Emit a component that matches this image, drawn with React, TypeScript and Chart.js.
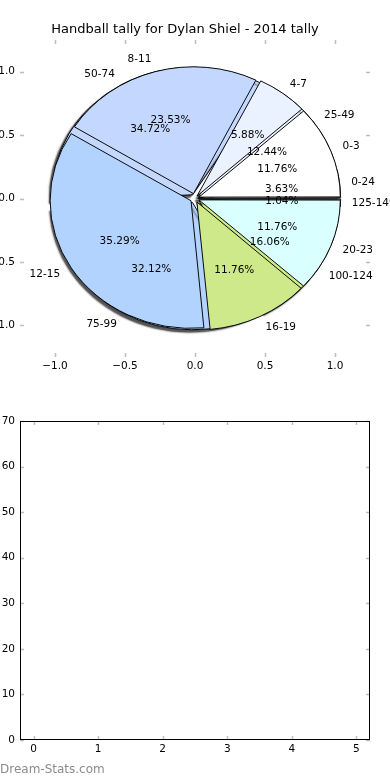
import React, { useEffect, useRef } from 'react';
import { Chart, registerables } from 'chart.js';

Chart.register(...registerables);

const chartTitle = 'Handball tally for Dylan Shiel - 2014 tally';
const handballLabels = ['0-3', '4-7', '8-11', '12-15', '16-19', '20-23'];
const handballCounts = [2, 1, 4, 6, 2, 2];
const disposalLabels = ['0-24', '25-49', '50-74', '75-99', '100-124', '125-149'];
const disposalCounts = [7, 24, 67, 62, 31, 2];
const sliceColors = ['#FFFFFF', '#EAF1FF', '#C4D8FF', '#B3D3FF', '#CEE98A', '#D9FFFF'];
const pieAxisTicks = [-1, -0.5, 0, 0.5, 1];
const lowerXTicks = [0, 1, 2, 3, 4, 5];
const lowerYTicks = [0, 10, 20, 30, 40, 50, 60, 70];
const watermark = 'Dream-Stats.com';

const FONT = "'DejaVu Sans', sans-serif";
const EXPLODE = 0.04;
const LABEL_DIST = 1.1;
const PCT_DIST = 0.6;
const W = 390;
const H = 390;

Chart.defaults.font.family = FONT;

const innerTicks = {
  id: 'innerTicks',
  afterDraw(chart: any) {
    const { ctx, chartArea: a, scales } = chart;
    const L = 4;
    ctx.save();
    ctx.strokeStyle = '#bdbdbd';
    ctx.lineWidth = 1.5;
    ctx.beginPath();
    for (const t of scales.x.ticks) {
      const p = Math.round(scales.x.getPixelForValue(t.value)) + 0.5;
      ctx.moveTo(p, a.bottom);
      ctx.lineTo(p, a.bottom - L);
      ctx.moveTo(p, a.top);
      ctx.lineTo(p, a.top + L);
    }
    for (const t of scales.y.ticks) {
      const p = Math.round(scales.y.getPixelForValue(t.value)) + 0.5;
      ctx.moveTo(a.left, p);
      ctx.lineTo(a.left + L, p);
      ctx.moveTo(a.right, p);
      ctx.lineTo(a.right - L, p);
    }
    ctx.stroke();
    ctx.restore();
  },
};

const framePlugin = {
  id: 'frame',
  afterDraw(chart: any) {
    const { ctx, chartArea: a } = chart;
    ctx.save();
    ctx.strokeStyle = '#000';
    ctx.lineWidth = 1;
    ctx.strokeRect(Math.round(a.left) + 0.5, Math.round(a.top) + 0.5, Math.round(a.right - a.left) - 1, Math.round(a.bottom - a.top) - 1);
    ctx.restore();
  },
};

function ellipsePlugin(ky: number, shadow: boolean) {
  return {
    id: 'ellipse',
    beforeDatasetsDraw(chart: any) {
      const { ctx } = chart;
      const el = chart.getDatasetMeta(0).data[0];
      const cx = el.x;
      const cy = el.y;
      ctx.save();
      ctx.translate(cx, cy);
      ctx.scale(1, ky);
      ctx.translate(-cx, -cy);
      if (shadow) {
        ctx.shadowColor = 'rgba(50,50,50,0.85)';
        ctx.shadowOffsetX = -2.5;
        ctx.shadowOffsetY = 2.5;
        ctx.shadowBlur = 1.5;
      }
    },
    afterDatasetsDraw(chart: any) {
      chart.ctx.restore();
    },
  };
}

function drawPieText(ctx: CanvasRenderingContext2D, chart: any, ky: number) {
  const meta = chart.getDatasetMeta(0);
  const ds = chart.data.datasets[0];
  const labels = chart.data.labels;
  const total = ds.data.reduce((s: number, v: number) => s + v, 0);
  meta.data.forEach((el: any, i: number) => {
    const p = el.getProps(['x', 'y', 'startAngle', 'endAngle', 'outerRadius'], true);
    const mid = (p.startAngle + p.endAngle) / 2;
    const t = (el.options.offset || 0) / 4;
    const c = Math.cos(mid);
    const s = Math.sin(mid);
    const bx = p.x + c * t;
    const by = p.y + s * t * ky;
    ctx.textAlign = 'center';
    ctx.textBaseline = 'middle';
    ctx.fillText(((ds.data[i] / total) * 100).toFixed(2) + '%', bx + c * p.outerRadius * PCT_DIST, by + s * p.outerRadius * PCT_DIST * ky);
    ctx.textAlign = c > 0 ? 'left' : 'right';
    ctx.fillText(labels[i], bx + c * p.outerRadius * LABEL_DIST, by + s * p.outerRadius * LABEL_DIST * ky);
  });
}

function makePie(canvas: HTMLCanvasElement, labels: string[], counts: number[], padding: any, radius: number, ky: number, explodePx: number, shadow: boolean, extra: any[]) {
  const revLabels = [...labels].reverse();
  const revCounts = [...counts].reverse();
  const revColors = [...sliceColors].reverse();
  const total = counts.reduce((a, b) => a + b, 0);
  return new Chart(canvas, {
    type: 'pie',
    data: {
      labels: revLabels,
      datasets: [
        {
          data: revCounts,
          backgroundColor: revColors,
          borderColor: '#000',
          borderWidth: 1,
          radius,
          offset: (c: any) => {
            const circ = (c.dataset.data[c.dataIndex] / total) * Math.PI * 2;
            const fix = 1 - Math.sin(Math.min(Math.PI, circ));
            return (4 * explodePx) / (1 + fix);
          },
        } as any,
      ],
    },
    options: {
      animation: false,
      responsive: false,
      events: [],
      radius,
      rotation: 90,
      layout: { padding },
      plugins: { legend: { display: false }, tooltip: { enabled: false } },
    } as any,
    plugins: [ellipsePlugin(ky, shadow), ...extra],
  });
}

const tickFont = { family: FONT, size: 10.5 };

export default function App() {
  const axesRef = useRef<HTMLCanvasElement>(null);
  const pie2Ref = useRef<HTMLCanvasElement>(null);
  const pie1Ref = useRef<HTMLCanvasElement>(null);
  const lowerRef = useRef<HTMLCanvasElement>(null);

  useEffect(() => {
    document.body.style.margin = '0';
    const charts: Chart[] = [];

    const axes = new Chart(axesRef.current!, {
      type: 'scatter',
      data: { datasets: [{ data: [] }] },
      options: {
        animation: false,
        responsive: false,
        events: [],
        layout: { padding: { left: 0, right: 20, top: 0, bottom: 0 } },
        plugins: {
          legend: { display: false },
          tooltip: { enabled: false },
          title: {
            display: true,
            text: chartTitle,
            color: '#000',
            font: { family: FONT, size: 13, weight: 'normal', lineHeight: 1.2 },
            padding: { top: 22, bottom: 2.4 },
          },
        },
        scales: {
          x: {
            type: 'linear',
            min: -1.25,
            max: 1.25,
            grid: { display: false, drawTicks: false },
            border: { display: false },
            ticks: { color: '#000', font: tickFont, padding: 3, includeBounds: false, callback: (v: any) => Number(v).toFixed(1).replace('-', '\u2212') },
            afterBuildTicks: (s: any) => { s.ticks = pieAxisTicks.map((v) => ({ value: v })); },
            afterFit: (s: any) => { s.height = 33; },
          },
          y: {
            type: 'linear',
            min: -1.25,
            max: 1.25,
            grid: { display: false, drawTicks: false },
            border: { display: false },
            ticks: { color: '#000', font: tickFont, padding: 5, includeBounds: false, callback: (v: any) => Number(v).toFixed(1).replace('-', '\u2212') },
            afterBuildTicks: (s: any) => { s.ticks = pieAxisTicks.map((v) => ({ value: v })); },
            afterFit: (s: any) => { s.width = 20; },
          },
        },
      } as any,
      plugins: [innerTicks],
    });
    charts.push(axes);

    const sx = axes.scales.x;
    const sy = axes.scales.y;
    const cx = sx.getPixelForValue(0);
    const cy = sy.getPixelForValue(0);
    const rx = sx.getPixelForValue(1) - cx;
    const ry = cy - sy.getPixelForValue(1);
    const ky = ry / rx;
    const padding = {
      left: Math.max(0, 2 * cx - W),
      right: Math.max(0, W - 2 * cx),
      top: Math.max(0, 2 * cy - H),
      bottom: Math.max(0, H - 2 * cy),
    };
    const explodePx = EXPLODE * rx;

    const pie2 = makePie(pie2Ref.current!, disposalLabels, disposalCounts, padding, rx, ky, explodePx, true, []);
    charts.push(pie2);

    const textPlugin = {
      id: 'pieText',
      afterDraw(chart: any) {
        const ctx = chart.ctx;
        ctx.save();
        ctx.fillStyle = '#000';
        ctx.font = `10.5px ${FONT}`;
        drawPieText(ctx, chart, ky);
        drawPieText(ctx, pie2, ky);
        ctx.restore();
      },
    };
    const pie1 = makePie(pie1Ref.current!, handballLabels, handballCounts, padding, rx, ky, explodePx, false, [textPlugin]);
    charts.push(pie1);

    const lower = new Chart(lowerRef.current!, {
      type: 'scatter',
      data: { datasets: [{ data: [] }] },
      options: {
        animation: false,
        responsive: false,
        events: [],
        layout: { padding: { left: 0, right: 20, top: 31, bottom: 0 } },
        plugins: { legend: { display: false }, tooltip: { enabled: false } },
        scales: {
          x: {
            type: 'linear',
            min: -0.21,
            max: 5.21,
            grid: { display: false, drawTicks: false },
            border: { display: false },
            ticks: { color: '#000', font: tickFont, padding: 3, includeBounds: false },
            afterBuildTicks: (s: any) => { s.ticks = lowerXTicks.map((v) => ({ value: v })); },
            afterFit: (s: any) => { s.height = 40; },
          },
          y: {
            type: 'linear',
            min: 0,
            max: 70,
            grid: { display: false, drawTicks: false },
            border: { display: false },
            ticks: { color: '#000', font: tickFont, padding: 5, includeBounds: false },
            afterBuildTicks: (s: any) => { s.ticks = lowerYTicks.map((v) => ({ value: v })); },
            afterFit: (s: any) => { s.width = 20; },
          },
        },
      } as any,
      plugins: [innerTicks, framePlugin],
    });
    charts.push(lower);

    return () => {
      charts.forEach((c) => c.destroy());
    };
  }, []);

  const abs: React.CSSProperties = { position: 'absolute', left: 0, top: 0, width: W, height: H };
  return (
    <div style={{ position: 'fixed', left: 0, top: 0, width: 390, height: 780, overflow: 'hidden', background: '#fff' }}>
      <canvas ref={axesRef} width={W} height={H} style={abs} />
      <canvas ref={pie2Ref} width={W} height={H} style={abs} />
      <canvas ref={pie1Ref} width={W} height={H} style={abs} />
      <canvas ref={lowerRef} width={W} height={H} style={{ ...abs, top: 390 }} />
      <div style={{ position: 'absolute', left: 0, top: 762, fontFamily: FONT, fontSize: 12, lineHeight: '14px', color: '#8c8c8c', whiteSpace: 'nowrap' }}>{watermark}</div>
    </div>
  );
}
